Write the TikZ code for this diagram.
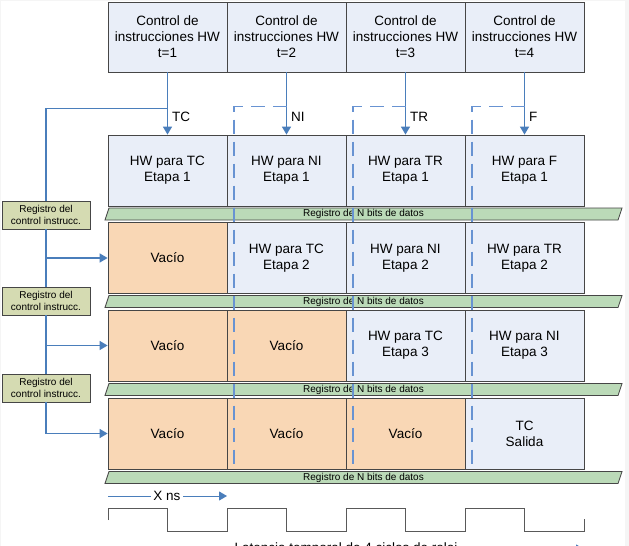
\documentclass[tikz,border=0pt]{standalone}
\usepackage{fontspec}
\setmainfont{Liberation Sans}
\usetikzlibrary{arrows.meta,calc}
\definecolor{boxblue}{RGB}{233,238,248}
\definecolor{boxorange}{RGB}{249,215,181}
\definecolor{bargreen}{RGB}{187,218,184}
\definecolor{regolive}{RGB}{213,219,178}
\definecolor{lineblue}{RGB}{74,126,187}
\definecolor{dashblue}{RGB}{104,147,210}
\definecolor{edgegray}{RGB}{70,70,70}
\tikzset{
  cell/.style={draw=edgegray, line width=0.8pt, minimum width=119pt, minimum height=71pt,
    inner sep=0pt, align=center, font=\fontsize{13.5}{16}\selectfont},
  hwbox/.style={cell, fill=boxblue},
  emptybox/.style={cell, fill=boxorange},
  ctlbox/.style={cell, fill=boxblue, minimum height=70pt},
  regbox/.style={draw=edgegray, fill=regolive, line width=0.8pt, minimum width=88pt,
    minimum height=28pt, inner sep=0pt, align=center, font=\fontsize{10}{12}\selectfont},
  bar/.style={draw=edgegray, fill=bargreen, line width=0.8pt},
  bartext/.style={inner sep=0pt, font=\fontsize{10}{12}\selectfont},
  flow/.style={draw=lineblue, line width=1.4pt, -{Triangle[length=8pt,width=9pt]}},
  feed/.style={draw=lineblue, line width=1.4pt},
  dline/.style={draw=dashblue, line width=1.8pt, dash pattern=on 14pt off 8pt},
  label/.style={font=\fontsize{13.5}{16}\selectfont, inner sep=2pt},
}
\begin{document}
\begin{tikzpicture}[x=1pt, y=-1pt]
\useasboundingbox (0,0) rectangle (629,546);
\clip (0,0) rectangle (629,546);
\fill[gray!8] (0,0) rectangle (629,546);
\fill[white] (1,1) rectangle (625,546);

% control units
\foreach \i in {1,...,4}
  \node[ctlbox] (ctl\i) at (48.5+119*\i,37) {Control de\\instrucciones HW\\t=\i};

% pipeline stages
\foreach \c/\t in {1/TC,2/NI,3/TR,4/F}
  \node[hwbox] (s1\c) at (48.5+119*\c,170.5) {HW para \t\\Etapa 1};
\node[emptybox] (s21) at (167.5,258) {Vacío};
\foreach \c/\t in {2/TC,3/NI,4/TR}
  \node[hwbox] (s2\c) at (48.5+119*\c,258) {HW para \t\\Etapa 2};
\foreach \c in {1,2}
  \node[emptybox] (s3\c) at (48.5+119*\c,345.5) {Vacío};
\foreach \c/\t in {3/TC,4/NI}
  \node[hwbox] (s3\c) at (48.5+119*\c,345.5) {HW para \t\\Etapa 3};
\foreach \c in {1,2,3}
  \node[emptybox] (s4\c) at (48.5+119*\c,433.5) {Vacío};
\node[hwbox] (s44) at (524.5,433.5) {TC\\Salida};

% data registers
\foreach \y [count=\k] in {208,295.5,383.5,471.5}
{
  \path[bar] (105,\y+12) -- (109,\y) -- (622,\y) -- (618,\y+12) -- cycle;
  \node[bartext] (bar\k) at (363.5,\y+6) {Registro de N bits de datos};
}

% control registers
\foreach \k/\y in {1/215,2/301,3/388}
  \node[regbox] (reg\k) at (46,\y) {Registro del\\control instrucc.};

% instruction flow
\foreach \i/\t in {1/TC,2/NI,3/TR,4/F}
  \draw[flow] (ctl\i) -- node[pos=0.71, right, label, xshift=2pt] (lab\i) {\t} (s1\i);
\coordinate (fb) at ([yshift=-36pt]ctl1.south);
\draw[feed] (fb) -| (reg1.north);
\draw[feed] (reg1) -- (reg2);
\draw[feed] (reg2) -- (reg3);
\draw[flow] (reg1 |- s21) -- (s21);
\draw[flow] (reg2 |- s31) -- (s31);
\draw[flow] (reg3) |- (s41);
\foreach \i in {2,3,4}
  \draw[dline] ([yshift=-34pt]ctl\i.south) -| ([xshift=7pt]s4\i.south west);

% clock
\draw[gray!70!black, line width=0.8pt] (108,520) -- (108,508)
  \foreach \k in {1,2,3} { -- ++(59.5,0) -- ++(0,23) -- ++(59.5,0) -- ++(0,-23) }
  -- ++(59.5,0) -- ++(0,23) -- ++(59.5,0) -- ++(0,-12);
\coordinate (xa) at (108,496);
\coordinate (xb) at (227,496);
\draw[flow, line width=1pt] (xa) -- (xb);
\node[label, fill=white] (xns) at (167,496) {X ns};
\coordinate (la) at (108,549);
\coordinate (lb) at (584,549);
\draw[flow, line width=1pt] (la) -- (lb);
\node[label, fill=white] (lat) at (346,549) {Latencia temporal de 4 ciclos de reloj};
\end{tikzpicture}
\end{document}
